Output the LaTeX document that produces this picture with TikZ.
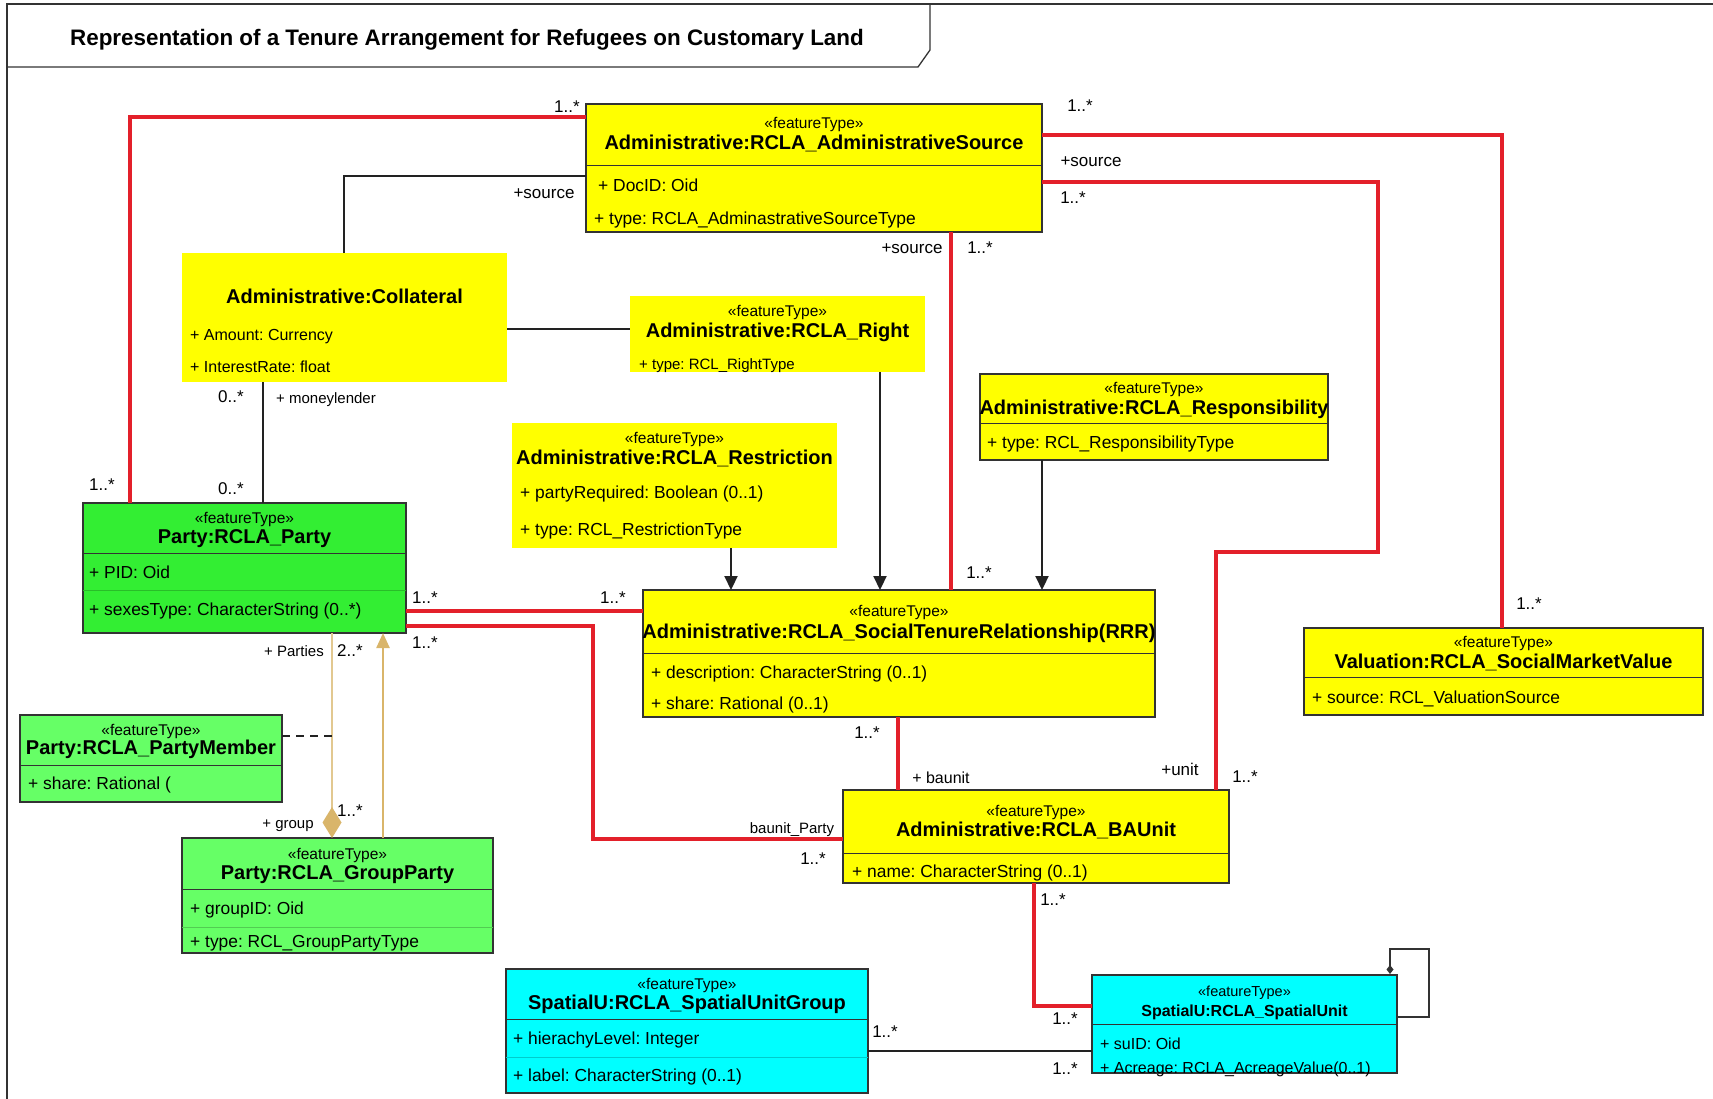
\documentclass[tikz,border=0pt]{standalone}
\usepackage{fontspec}
\setmainfont{Liberation Sans}
\usetikzlibrary{arrows.meta,calc}

\definecolor{umlyellow}{HTML}{FFFF00}
\definecolor{partygreen}{HTML}{33EE33}
\definecolor{lightgreen}{HTML}{66FF66}
\definecolor{umlcyan}{HTML}{00FFFF}
\definecolor{assocred}{HTML}{E3202A}
\definecolor{tanline}{HTML}{E2C890}
\definecolor{tandark}{HTML}{D9B56A}
\definecolor{edgegray}{HTML}{333333}
\definecolor{linkblack}{HTML}{222222}

\newcommand\setfs[1]{\fontsize{#1}{#1}\selectfont}

\tikzset{
  classbox/.style={rectangle, anchor=north west, inner sep=0pt, outer sep=0pt,
                   draw=edgegray, line width=1.3pt},
  barebox/.style={rectangle, anchor=north west, inner sep=0pt, outer sep=0pt, draw=none},
  txt/.style={inner sep=0pt, yshift=-4pt},
  stereo/.style={txt, anchor=mid, font=\setfs{15.5}},
  cname/.style={txt, anchor=mid, font=\setfs{20}\bfseries},
  attr/.style={txt, anchor=mid west, font=\setfs{17.4}},
  role/.style={txt, anchor=mid, font=\setfs{17}},
  smallrole/.style={txt, anchor=mid, font=\setfs{15}},
  sepline/.style={draw=edgegray, line width=1pt},
  assoc/.style={draw=assocred, line width=4pt},
  link/.style={draw=linkblack, line width=2.6pt},
  depend/.style={draw=linkblack, line width=2.2pt, -{Triangle[length=14pt,width=13pt]}},
  aggr/.style={draw=tanline, line width=2.2pt},
}

\begin{document}
\frenchspacing
\begin{tikzpicture}[x=1pt,y=-1pt]
\useasboundingbox (0,0) rectangle (1713,1099);

% frame and title tab
\draw[edgegray, line width=1.5pt] (7,1099) -- (7,4) -- (1713,4);
\draw[edgegray, line width=1.3pt] (7,67) -- (918,67) -- (930,50) -- (930,4);
\node[txt, anchor=mid, font=\setfs{22.4}\bfseries] (title) at (467,39)
  {Representation of a Tenure Arrangement for Refugees on Customary Land};

% ---------- class boxes ----------
% AdministrativeSource
\node[classbox, fill=umlyellow, minimum width=456pt, minimum height=128pt] (src) at (586,104) {};
\draw[sepline] ([yshift=-62pt]src.north west) -- ([yshift=-62pt]src.north east);
\node[stereo] (src-st) at (814,122) {«featureType»};
\node[cname] (src-nm) at (814,143) {Administrative:RCLA\_AdministrativeSource};
\node[attr] (src-a1) at (598,185) {+ DocID: Oid};
\node[attr] (src-a2) at (594,218) {+ type: RCLA\_AdminastrativeSourceType};

% Collateral
\node[barebox, fill=umlyellow, minimum width=325pt, minimum height=129pt] (coll) at (182,253) {};
\node[cname] (coll-nm) at (344.5,297) {Administrative:Collateral};
\node[attr, font=\setfs{16}] (coll-a1) at (190,334) {+ Amount: Currency};
\node[attr, font=\setfs{16}] (coll-a2) at (190,366) {+ InterestRate: float};

% Right
\node[barebox, fill=umlyellow, minimum width=295pt, minimum height=76pt] (rightbox) at (630,296) {};
\node[stereo] (right-st) at (777.5,310) {«featureType»};
\node[cname] (right-nm) at (777.5,331) {Administrative:RCLA\_Right};
\node[attr, font=\setfs{15}] (right-a1) at (639,363) {+ type: RCL\_RightType};

% Restriction
\node[barebox, fill=umlyellow, minimum width=325pt, minimum height=125pt] (restr) at (512,423) {};
\node[stereo] (restr-st) at (674.5,437) {«featureType»};
\node[cname] (restr-nm) at (674.5,458) {Administrative:RCLA\_Restriction};
\node[attr] (restr-a1) at (520,492) {+ partyRequired: Boolean (0..1)};
\node[attr] (restr-a2) at (520,529) {+ type: RCL\_RestrictionType};

% Responsibility
\node[classbox, fill=umlyellow, minimum width=348pt, minimum height=86pt] (resp) at (980,374) {};
\draw[sepline] ([yshift=-49pt]resp.north west) -- ([yshift=-49pt]resp.north east);
\node[stereo] (resp-st) at (1154,387) {«featureType»};
\node[cname] (resp-nm) at (1154,408) {Administrative:RCLA\_Responsibility};
\node[attr] (resp-a1) at (987,442) {+ type: RCL\_ResponsibilityType};

% SocialTenureRelationship
\node[classbox, fill=umlyellow, minimum width=512pt, minimum height=127pt] (rrr) at (643,590) {};
\draw[sepline] ([yshift=-63pt]rrr.north west) -- ([yshift=-63pt]rrr.north east);
\node[stereo] (rrr-st) at (899,610) {«featureType»};
\node[cname] (rrr-nm) at (899,632) {Administrative:RCLA\_SocialTenureRelationship(RRR)};
\node[attr] (rrr-a1) at (651,672) {+ description: CharacterString (0..1)};
\node[attr] (rrr-a2) at (651,703) {+ share: Rational (0..1)};

% Party
\node[classbox, fill=partygreen, minimum width=323pt, minimum height=130pt] (party) at (83,503) {};
\draw[sepline] ([yshift=-50pt]party.north west) -- ([yshift=-50pt]party.north east);
\draw[partygreen!80!black, line width=0.6pt] ([yshift=-87pt]party.north west) -- ([yshift=-87pt]party.north east);
\node[stereo] (party-st) at (244.5,517) {«featureType»};
\node[cname] (party-nm) at (244.5,537) {Party:RCLA\_Party};
\node[attr] (party-a1) at (89,572) {+ PID: Oid};
\node[attr] (party-a2) at (89,609) {+ sexesType: CharacterString (0..*)};

% PartyMember
\node[classbox, fill=lightgreen, minimum width=262pt, minimum height=87pt] (member) at (20,715) {};
\draw[sepline] ([yshift=-50pt]member.north west) -- ([yshift=-50pt]member.north east);
\node[stereo] (member-st) at (151,729) {«featureType»};
\node[cname] (member-nm) at (151,748) {Party:RCLA\_PartyMember};
\node[attr] (member-a1) at (28,783) {+ share: Rational (};

% GroupParty
\node[classbox, fill=lightgreen, minimum width=311pt, minimum height=115pt] (group) at (182,838) {};
\draw[sepline] ([yshift=-51pt]group.north west) -- ([yshift=-51pt]group.north east);
\draw[lightgreen!80!black, line width=0.6pt] ([yshift=-89pt]group.north west) -- ([yshift=-89pt]group.north east);
\node[stereo] (group-st) at (337.5,853) {«featureType»};
\node[cname] (group-nm) at (337.5,873) {Party:RCLA\_GroupParty};
\node[attr] (group-a1) at (190,908) {+ groupID: Oid};
\node[attr] (group-a2) at (190,941) {+ type: RCL\_GroupPartyType};

% BAUnit
\node[classbox, fill=umlyellow, minimum width=386pt, minimum height=93pt] (baunit) at (843,790) {};
\draw[sepline] ([yshift=-63pt]baunit.north west) -- ([yshift=-63pt]baunit.north east);
\node[stereo] (baunit-st) at (1036,810) {«featureType»};
\node[cname] (baunit-nm) at (1036,830) {Administrative:RCLA\_BAUnit};
\node[attr] (baunit-a1) at (852,871) {+ name: CharacterString (0..1)};

% SocialMarketValue
\node[classbox, fill=umlyellow, minimum width=399pt, minimum height=87pt] (value) at (1304,628) {};
\draw[sepline] ([yshift=-49pt]value.north west) -- ([yshift=-49pt]value.north east);
\node[stereo] (value-st) at (1503.5,641) {«featureType»};
\node[cname] (value-nm) at (1503.5,662) {Valuation:RCLA\_SocialMarketValue};
\node[attr] (value-a1) at (1312,697) {+ source: RCL\_ValuationSource};

% SpatialUnitGroup
\node[classbox, fill=umlcyan, minimum width=362pt, minimum height=124pt] (sug) at (506,969) {};
\draw[sepline] ([yshift=-50pt]sug.north west) -- ([yshift=-50pt]sug.north east);
\draw[umlcyan!80!black, line width=0.6pt] ([yshift=-88pt]sug.north west) -- ([yshift=-88pt]sug.north east);
\node[stereo] (sug-st) at (687,983) {«featureType»};
\node[cname] (sug-nm) at (687,1003) {SpatialU:RCLA\_SpatialUnitGroup};
\node[attr] (sug-a1) at (513,1038) {+ hierachyLevel: Integer};
\node[attr] (sug-a2) at (513,1075) {+ label: CharacterString (0..1)};

% SpatialUnit
\node[classbox, fill=umlcyan, minimum width=305pt, minimum height=98pt] (su) at (1092,975) {};
\draw[sepline] ([yshift=-49pt]su.north west) -- ([yshift=-49pt]su.north east);
\node[stereo, font=\setfs{14.5}] (su-st) at (1244.5,990) {«featureType»};
\node[cname, font=\setfs{16}\bfseries] (su-nm) at (1244.5,1010) {SpatialU:RCLA\_SpatialUnit};
\node[attr, font=\setfs{16}] (su-a1) at (1100,1043) {+ suID: Oid};
\node[attr, font=\setfs{16}] (su-a2) at (1100,1067) {+ Acreage: RCLA\_AcreageValue(0..1)};

% ---------- bend points ----------
\coordinate (k1) at (1378,552);
\coordinate (k2) at (1216,552);
\coordinate (k3) at (593,839);
\coordinate (k4) at (1429,949);
\coordinate (k5) at (332,736);

% ---------- connectors ----------
% associations (red)
\draw[assoc] ([xshift=47pt]party.north west) |- ([yshift=-13pt]src.north west);
\draw[assoc] ([xshift=365pt]src.south west) -- ([xshift=308pt]rrr.north west);
\draw[assoc] ([yshift=-31pt]src.north east) -| ([xshift=198pt]value.north west);
\draw[assoc] ([yshift=-78pt]src.north east) -| (k1) -- (k2) -- ([xshift=373pt]baunit.north west);
\draw[assoc] ([yshift=-108pt]party.north east) -- ([yshift=-21pt]rrr.north west);
\draw[assoc] ([yshift=-123pt]party.north east) -| (k3) -- ([yshift=-49pt]baunit.north west);
\draw[assoc] ([xshift=255pt]rrr.south west) -- ([xshift=55pt]baunit.north west);
\draw[assoc] ([xshift=191pt]baunit.south west) |- ([yshift=-31pt]su.north west);

% plain links (black)
\draw[link] ([xshift=162pt]coll.north west) |- ([yshift=-72pt]src.north west);
\draw[link] ([yshift=-76pt]coll.north east) -- ([yshift=-33pt]rightbox.north west);
\draw[link] ([xshift=81pt]coll.south west) -- ([xshift=180pt]party.north west);
\draw[link] ([yshift=-82pt]sug.north east) -- ([yshift=-76pt]su.north west);

% directed links into the tenure relationship
\draw[depend] ([xshift=250pt]rightbox.south west) -- ([xshift=237pt]rrr.north west);
\draw[depend] ([xshift=219pt]restr.south west) -- ([xshift=88pt]rrr.north west);
\draw[depend] ([xshift=62pt]resp.south west) -- ([xshift=399pt]rrr.north west);

% reflexive association of the spatial unit
\draw[edgegray, line width=1.4pt, {Diamond[length=9pt,width=7pt]}-]
  ([xshift=-7pt,yshift=1pt]su.north east) |- (k4) |- ([yshift=-42pt]su.north east);

% aggregation and generalisation between parties
\draw[aggr, -{Diamond[length=31pt,width=19pt,fill=tandark,color=tandark]}]
  ([xshift=249pt]party.south west) -- ([xshift=150pt]group.north west);
\draw[draw=tandark, line width=2.4pt, -{Triangle[length=15pt,width=13pt,fill=tandark,color=tandark]}]
  ([xshift=201pt]group.north west) -- ([xshift=300pt]party.south west);
\draw[linkblack, line width=2.4pt, dash pattern=on 8pt off 6pt]
  ([yshift=-21pt]member.north east) -- (k5);

% ---------- role names and multiplicities ----------
\node[role] (m1) at (567,106) {1..*};
\node[role] (m2) at (102,484) {1..*};
\node[role] (r1) at (544,192) {+source};
\node[role] (m3) at (231,396) {0..*};
\node[smallrole, anchor=mid west] (r2) at (276,397) {+ moneylender};
\node[role] (m4) at (231,488) {0..*};
\node[role] (r3) at (912,247) {+source};
\node[role] (m5) at (980,247) {1..*};
\node[role] (m6) at (979,572) {1..*};
\node[role] (m7) at (1080,105) {1..*};
\node[role] (m8) at (1529,603) {1..*};
\node[role] (r4) at (1091,160) {+source};
\node[role] (m9) at (1073,197) {1..*};
\node[role] (r5) at (1180,769) {+unit};
\node[role] (m10) at (1245,776) {1..*};
\node[role] (m11) at (425,597) {1..*};
\node[role] (m12) at (613,597) {1..*};
\node[role] (m13) at (425,642) {1..*};
\node[smallrole] (r6) at (792,827) {baunit\_Party};
\node[role] (m14) at (813,858) {1..*};
\node[role] (m15) at (867,732) {1..*};
\node[smallrole, font=\setfs{16}] (r7) at (941,777) {+ baunit};
\node[role] (m16) at (1053,899) {1..*};
\node[role] (m17) at (1065,1018) {1..*};
\node[role] (m18) at (885,1031) {1..*};
\node[role] (m19) at (1065,1068) {1..*};
\node[smallrole] (r8) at (294,650) {+ Parties};
\node[role] (m20) at (350,650) {2..*};
\node[smallrole] (r9) at (288,822) {+ group};
\node[role] (m21) at (350,810) {1..*};
\end{tikzpicture}
\end{document}
